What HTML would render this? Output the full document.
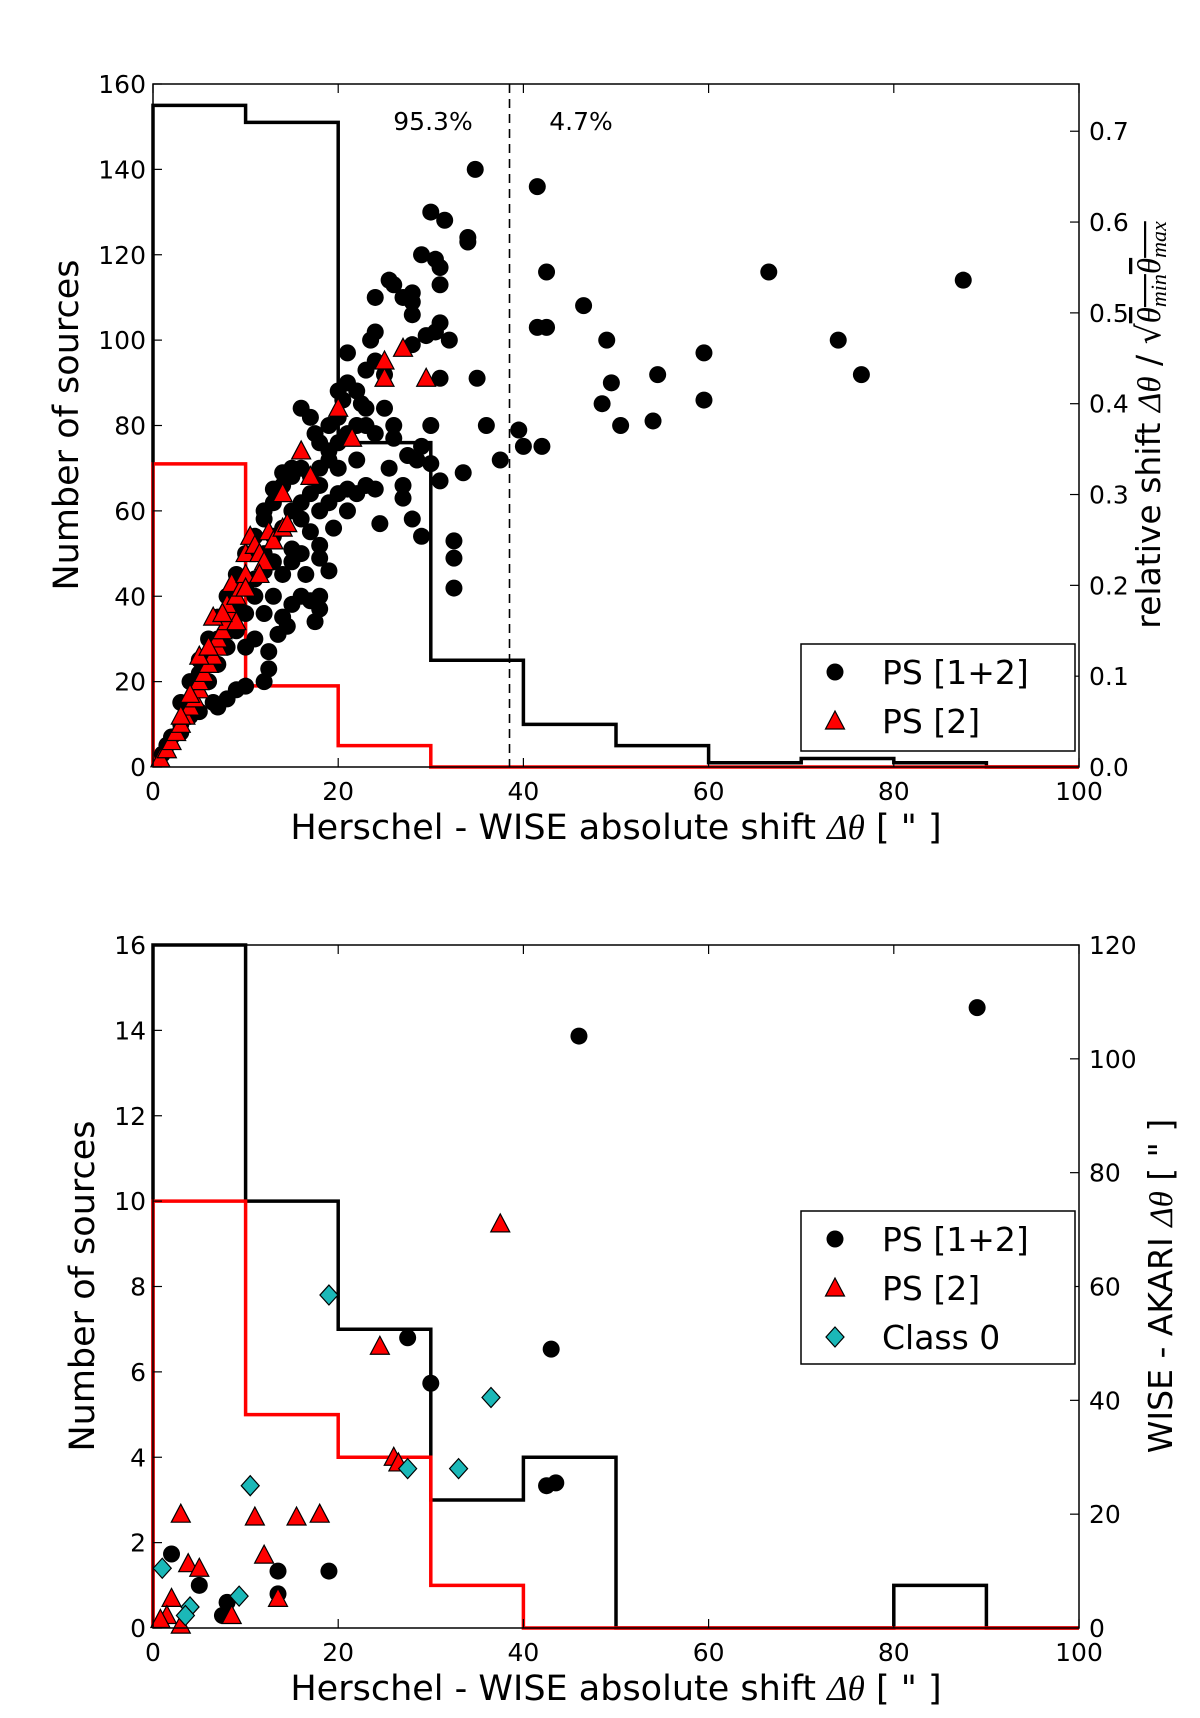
<!DOCTYPE html>
<html><head><meta charset="utf-8"><style>
html,body{margin:0;padding:0;background:#fff;}
svg{display:block;font-family:"DejaVu Sans","Liberation Sans",sans-serif;}
</style></head><body>
<svg id="fig" width="1200" height="1718" viewBox="0 0 1200 1718" xmlns="http://www.w3.org/2000/svg"></svg>
<script>
// ---------- data ----------
const binEdges = [0,10,20,30,40,50,60,70,80,90,100];
const topHistAll = [155,151,76,25,10,5,1,2,1,0];
const topHistPS2 = [71,19,5,0,0,0,0,0,0,0];
const botHistAll = [16,10,7,3,4,0,0,0,1,0];
const botHistPS2 = [10,5,4,1,0,0,0,0,0,0];
const xTicks = [0,20,40,60,80,100];
const topLeftTicks = [0,20,40,60,80,100,120,140,160];
const topRightTicks = [0.0,0.1,0.2,0.3,0.4,0.5,0.6,0.7];
const botLeftTicks = [0,2,4,6,8,10,12,14,16];
const botRightTicks = [0,20,40,60,80,100,120];
const completenessLine = 38.5;
// top scatter: x shift ["], relative shift
const topPS12x = [34.8,41.5,30,31.5,34,34,29,30.5,31,42.5,66.5,87.5,31,25.5,26,28,27,28,28,24,46.5,41.5,42.5,31,30.5,29.5,24,23.5,49,74,32,28,59.5,21,35,31,49.5,54.5,76.5,48.5,59.5,50.5,54,36,39.5,40,42,37.5,33.5,32.5,32.5,32.5,31,30,29,30,27.5,28.5,27,28,29,27,25.5,24.5,24,23,22,20,21,19.5,18,19,18,17.5,18,17,16.5,15,14.5,14,13.5,12.5,12.5,12,10,9,8,6.5,7,5,4,3,2,1,1.5,3,16,17,17.5,18,19,19,20,20.5,21,22,22.5,23,23,24,25,26,26,25,24,23,22,21,20,19,18,17,16,15,14,13,12,11,10,9,8,7,6,5,4,3,12,13,14,15,16,17,18,11,10,9,8,7,6,16,17,18,19,20,14,13,12,11,10,9,8,7,6,5,15,16,13,12,11,10,21,22,20,18,15,14,13,12,16,15];
const topPS12y = [0.658,0.639,0.611,0.602,0.583,0.578,0.564,0.559,0.550,0.545,0.545,0.536,0.531,0.536,0.531,0.522,0.517,0.512,0.498,0.517,0.508,0.484,0.484,0.489,0.479,0.475,0.479,0.470,0.470,0.470,0.470,0.465,0.456,0.456,0.428,0.428,0.423,0.432,0.432,0.400,0.404,0.376,0.381,0.376,0.371,0.353,0.353,0.338,0.324,0.249,0.230,0.197,0.315,0.334,0.353,0.376,0.343,0.338,0.310,0.273,0.254,0.296,0.329,0.268,0.306,0.310,0.338,0.329,0.306,0.263,0.230,0.216,0.188,0.160,0.174,0.183,0.212,0.240,0.155,0.165,0.146,0.127,0.108,0.094,0.089,0.085,0.075,0.071,0.066,0.061,0.056,0.047,0.033,0.014,0.024,0.038,0.395,0.385,0.367,0.357,0.348,0.338,0.414,0.404,0.423,0.414,0.400,0.395,0.376,0.367,0.395,0.376,0.362,0.432,0.447,0.437,0.376,0.367,0.357,0.291,0.282,0.301,0.329,0.320,0.310,0.291,0.273,0.254,0.235,0.212,0.188,0.165,0.141,0.118,0.094,0.071,0.235,0.226,0.212,0.282,0.273,0.259,0.244,0.188,0.169,0.150,0.132,0.113,0.094,0.291,0.320,0.329,0.376,0.385,0.263,0.254,0.216,0.207,0.197,0.179,0.160,0.141,0.122,0.103,0.226,0.235,0.188,0.169,0.141,0.132,0.282,0.301,0.301,0.310,0.329,0.324,0.306,0.282,0.188,0.179];
const topPS2x = [0.8,1.5,2,2.5,3,3.5,4,4.5,5,5,5.5,6,6.5,7,7,7.5,8,8.5,6.5,8,9,8.5,9.5,10,10,10.5,11,11.5,12,12.5,13,14,14.5,14,16,17,20,21.5,25,25,27,29.5,5,4,9,10,11.5,7.5,6,3];
const topPS2y = [0.009,0.019,0.028,0.038,0.047,0.056,0.066,0.075,0.085,0.094,0.103,0.113,0.122,0.132,0.141,0.150,0.160,0.169,0.165,0.179,0.188,0.202,0.197,0.212,0.235,0.254,0.244,0.235,0.226,0.259,0.249,0.263,0.268,0.301,0.348,0.320,0.395,0.362,0.428,0.447,0.461,0.428,0.122,0.080,0.160,0.197,0.212,0.169,0.132,0.056];
// bottom scatter: x shift ["], WISE-AKARI shift ["]
const botPS12x = [46,89,43,27.5,30,42.5,43.5,19,13.5,2,5,8,7.5,13.5];
const botPS12y = [104,109,49,51,43,25,25.5,10,10,13,7.5,4.5,2.2,6];
const botPS2x = [37.5,24.5,26,26.5,3,11,15.5,18,12,3.8,5,2,13.5,1.5,8.5,3,0.8];
const botPS2y = [71,49.5,30,29,20,19.5,19.5,20,12.8,11.3,10.5,5.2,5.2,2.2,2.2,0.5,1.5];
const botC0x = [19,36.5,33,27.5,10.5,1,9.3,4,3.5];
const botC0y = [58.5,40.5,28,28,25,10.5,5.6,3.7,2.2];

// ---------- drawing ----------
const NS='http://www.w3.org/2000/svg';
const svg=document.getElementById('fig');
function el(tag,attrs,parent){const e=document.createElementNS(NS,tag);for(const k in attrs)e.setAttribute(k,attrs[k]);(parent||svg).appendChild(e);return e;}
const X0=153,X1=1079;
function mkX(v){return X0+(v-0)/(100-0)*(X1-X0);}
const R=8.5;
function triPts(x,y){return x+','+(y-10)+' '+(x-9.5)+','+(y+8)+' '+(x+9.5)+','+(y+8);}
function diaPts(x,y){return x+','+(y-10)+' '+(x+9)+','+y+' '+x+','+(y+10)+' '+(x-9)+','+y;}

function panel(o){
  const g=el('g',{});
  
  
  const top=o.top,bot=o.top+683;
  const yL=v=>bot-v/o.lmax*(bot-top);
  const yR=v=>bot-v/o.rmax*(bot-top);
  function hist(vals,color,name){
    let d='M'+mkX(binEdges[0])+' '+yL(0);
    for(let i=0;i<vals.length;i++){d+=' L'+mkX(binEdges[i])+' '+yL(vals[i])+' L'+mkX(binEdges[i+1])+' '+yL(vals[i]);}
    d+=' L'+mkX(100)+' '+yL(0);
    const p=el('path',{d:d,fill:'none',stroke:color,'stroke-width':3.5},g);
    
    
  }
  hist(o.hAll,'#000',o.name+'-histogram-all');
  hist(o.hPS2,'#f00',o.name+'-histogram-ps2');
  if(o.dash){const l=el('line',{x1:mkX(o.dash),x2:mkX(o.dash),y1:top,y2:bot,stroke:'#000','stroke-width':1.6,'stroke-dasharray':'9,6'},g);
    
    const t1=el('text',{x:433,y:130,'font-size':25,'text-anchor':'middle'},g);t1.textContent='95.3%';
    
    const t2=el('text',{x:581,y:130,'font-size':25,'text-anchor':'middle'},g);t2.textContent='4.7%';
    
  }
  function circles(xs,ys,name){for(let i=0;i<xs.length;i++){const c=el('circle',{cx:mkX(xs[i]),cy:yR(ys[i]),r:R,fill:'#000'},g);
    }}
  function tris(xs,ys,name){for(let i=0;i<xs.length;i++){
    const p=el('polygon',{points:triPts(mkX(xs[i]),yR(ys[i])),fill:'#f00',stroke:'#000','stroke-width':1.2},g);
    }}
  function diams(xs,ys,name){for(let i=0;i<xs.length;i++){
    const p=el('polygon',{points:diaPts(mkX(xs[i]),yR(ys[i])),fill:'#1bb8b8',stroke:'#000','stroke-width':1.2},g);
    }}
  circles(o.s12x,o.s12y,'point-ps12');
  tris(o.s2x,o.s2y,'point-ps2');
  if(o.c0x)diams(o.c0x,o.c0y,'point-class0');
  const fr=el('rect',{x:X0,y:top,width:X1-X0,height:bot-top,fill:'none',stroke:'#000','stroke-width':1.5},g);
  
  xTicks.forEach(v=>{const x=mkX(v);
    el('line',{x1:x,x2:x,y1:bot,y2:bot-9,stroke:'#000','stroke-width':1.2},g);
    el('line',{x1:x,x2:x,y1:top,y2:top+9,stroke:'#000','stroke-width':1.2},g);
    const t=el('text',{x:x,y:bot+33,'font-size':25,'text-anchor':'middle'},g);t.textContent=String(v);
    });
  o.lt.forEach(v=>{const y=yL(v);
    el('line',{x1:X0,x2:X0+9,y1:y,y2:y,stroke:'#000','stroke-width':1.2},g);
    const t=el('text',{x:X0-7,y:y+9,'font-size':25,'text-anchor':'end'},g);t.textContent=String(v);
    });
  o.rt.forEach(v=>{const y=yR(v);
    el('line',{x1:X1,x2:X1-9,y1:y,y2:y,stroke:'#000','stroke-width':1.2},g);
    const t=el('text',{x:X1+10,y:y+9,'font-size':25,'text-anchor':'start'},g);t.textContent=o.rfmt(v);
    });
  const xl=el('text',{x:616,y:bot+72,'font-size':35,'text-anchor':'middle'},g);
  xl.innerHTML='Herschel - WISE absolute shift <tspan font-style="italic" font-family="Liberation Serif,serif">Δθ</tspan> [ " ]';
  
  const yl=el('text',{x:0,y:0,'font-size':35,'text-anchor':'middle',transform:'translate('+o.ylx+','+(top+341)+') rotate(-90)'},g);
  yl.textContent='Number of sources';
  
  const yr=el('text',{x:0,y:0,'font-size':33,'text-anchor':'middle',transform:'translate('+o.yrx+','+(top+341)+') rotate(-90)'},g);
  yr.innerHTML=o.rlabel;
  
  const L=o.leg;
  const lg=el('g',{},g);
  el('rect',{x:L.x,y:L.y,width:274,height:L.h,fill:'#fff',stroke:'#000','stroke-width':1.5},lg);
  L.items.forEach((it,i)=>{const cy=L.y+28+i*49;const mx=L.x+34;
    if(it.m==='c')el('circle',{cx:mx,cy:cy,r:R,fill:'#000'},lg);
    if(it.m==='t')el('polygon',{points:triPts(mx,cy),fill:'#f00',stroke:'#000','stroke-width':1.2},lg);
    if(it.m==='d')el('polygon',{points:diaPts(mx,cy),fill:'#1bb8b8',stroke:'#000','stroke-width':1.2},lg);
    const t=el('text',{x:L.x+81,y:cy+12,'font-size':33},lg);t.textContent=it.t;
    });
}
panel({name:'top-panel',top:84,lmax:160,rmax:0.752,hAll:topHistAll,hPS2:topHistPS2,dash:completenessLine,
  s12x:topPS12x,s12y:topPS12y,s2x:topPS2x,s2y:topPS2y,lt:topLeftTicks,rt:topRightTicks,rfmt:v=>v.toFixed(1),
  ylx:78,yrx:1160,rlabel:'relative shift <tspan font-family="Liberation Serif,serif" font-style="italic">Δθ</tspan> / √<tspan font-family="Liberation Serif,serif" font-style="italic" text-decoration="overline">θ<tspan font-size="22" dy="6">min</tspan><tspan dy="-6">θ</tspan><tspan font-size="22" dy="6">max</tspan></tspan>',
  leg:{x:801,y:644,h:107,items:[{m:'c',t:'PS [1+2]'},{m:'t',t:'PS [2]'}]}});
panel({name:'bottom-panel',top:945,lmax:16,rmax:120,hAll:botHistAll,hPS2:botHistPS2,dash:null,
  s12x:botPS12x,s12y:botPS12y,s2x:botPS2x,s2y:botPS2y,c0x:botC0x,c0y:botC0y,lt:botLeftTicks,rt:botRightTicks,rfmt:v=>String(v),
  ylx:94,yrx:1172,rlabel:'WISE - AKARI <tspan font-family="Liberation Serif,serif" font-style="italic">Δθ</tspan> [ " ]',
  leg:{x:801,y:1211,h:153,items:[{m:'c',t:'PS [1+2]'},{m:'t',t:'PS [2]'},{m:'d',t:'Class 0'}]}});
</script>
</body></html>
